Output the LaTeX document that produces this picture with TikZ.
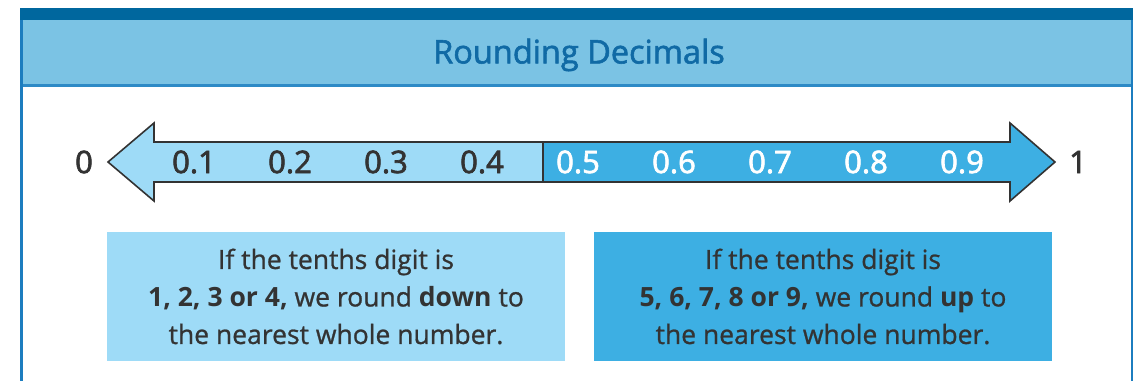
\documentclass[tikz,border=0pt]{standalone}
\usepackage{fontspec}
\setmainfont{Open Sans}
\newfontfamily\medfont[FakeBold=2.2]{Open Sans}
\newfontfamily\titlefont[FakeBold=1.8]{Open Sans}
\newfontfamily\boxfont[FakeBold=0.9]{Open Sans}
\definecolor{topbar}{HTML}{00679E}
\definecolor{headbg}{HTML}{7BC3E4}
\definecolor{headline}{HTML}{2D8AC6}
\definecolor{frame}{HTML}{1C7DBF}
\definecolor{titlec}{HTML}{106AA5}
\definecolor{lightb}{HTML}{9EDBF7}
\definecolor{darkb}{HTML}{3DAFE3}
\definecolor{ink}{HTML}{333333}
\tikzset{
  numlab/.style={inner sep=0pt, font=\medfont\fontsize{31}{34}\selectfont},
  numdark/.style={numlab, text=ink},
  numwhite/.style={numlab, text=white},
  rulebox/.style={inner sep=0pt, minimum width=458pt, minimum height=129pt, text=ink,
     align=center, font=\boxfont\fontsize{26.5}{37.5}\selectfont},
  endlab/.style={numlab, text=ink},
}
\begin{document}
\begin{tikzpicture}[x=1pt,y=-1pt]
\useasboundingbox (0,0) rectangle (1140,381);
% frame
\fill[topbar] (20,8) rectangle (1133,20);
\fill[headbg] (20,20) rectangle (1133,85);
\fill[headline] (20,84) rectangle (1133,87);
\draw[frame, line width=2.5pt] (21.5,20) -- (21.5,381);
\draw[frame, line width=2pt] (1132,20) -- (1132,381);
\node[inner sep=0pt, text=titlec, font=\titlefont\fontsize{32.5}{36}\selectfont] (title) at (579,55) {Rounding Decimals};
% arrow
\fill[lightb] (543,142) -- (154,142) -- (154,123) -- (108,162) -- (154,201) -- (154,182) -- (543,182) -- cycle;
\fill[darkb] (543,142) -- (1010,142) -- (1010,123) -- (1055,162) -- (1010,201) -- (1010,182) -- (543,182) -- cycle;
\draw[ink, line width=1.6pt, line join=miter] (154,142) -- (154,123) -- (108,162) -- (154,201) -- (154,182) -- (1010,182) -- (1010,201) -- (1055,162) -- (1010,123) -- (1010,142) -- cycle;
\draw[ink, line width=1.6pt] (543,142) -- (543,182);
% labels
\node[endlab] (zero) at (84,162) {0};
\node[endlab] (one) at (1078,162) {1};
\node[numdark] (n1) at (194,162) {0.1};
\node[numdark] (n2) at (290,162) {0.2};
\node[numdark] (n3) at (386,162) {0.3};
\node[numdark] (n4) at (482,162) {0.4};
\node[numwhite] (n5) at (578,162) {0.5};
\node[numwhite] (n6) at (674,162) {0.6};
\node[numwhite] (n7) at (770,162) {0.7};
\node[numwhite] (n8) at (866,162) {0.8};
\node[numwhite] (n9) at (962,162) {0.9};
% boxes
\node[rulebox, fill=lightb] (down) at (336,296.5) {If the tenths digit is\\{\normalfont\bfseries 1, 2, 3 or 4,} we round {\normalfont\bfseries down} to\\the nearest whole number.};
\node[rulebox, fill=darkb] (up) at (823,296.5) {If the tenths digit is\\{\normalfont\bfseries 5, 6, 7, 8 or 9,} we round {\normalfont\bfseries up} to\\the nearest whole number.};
\end{tikzpicture}
\end{document}
